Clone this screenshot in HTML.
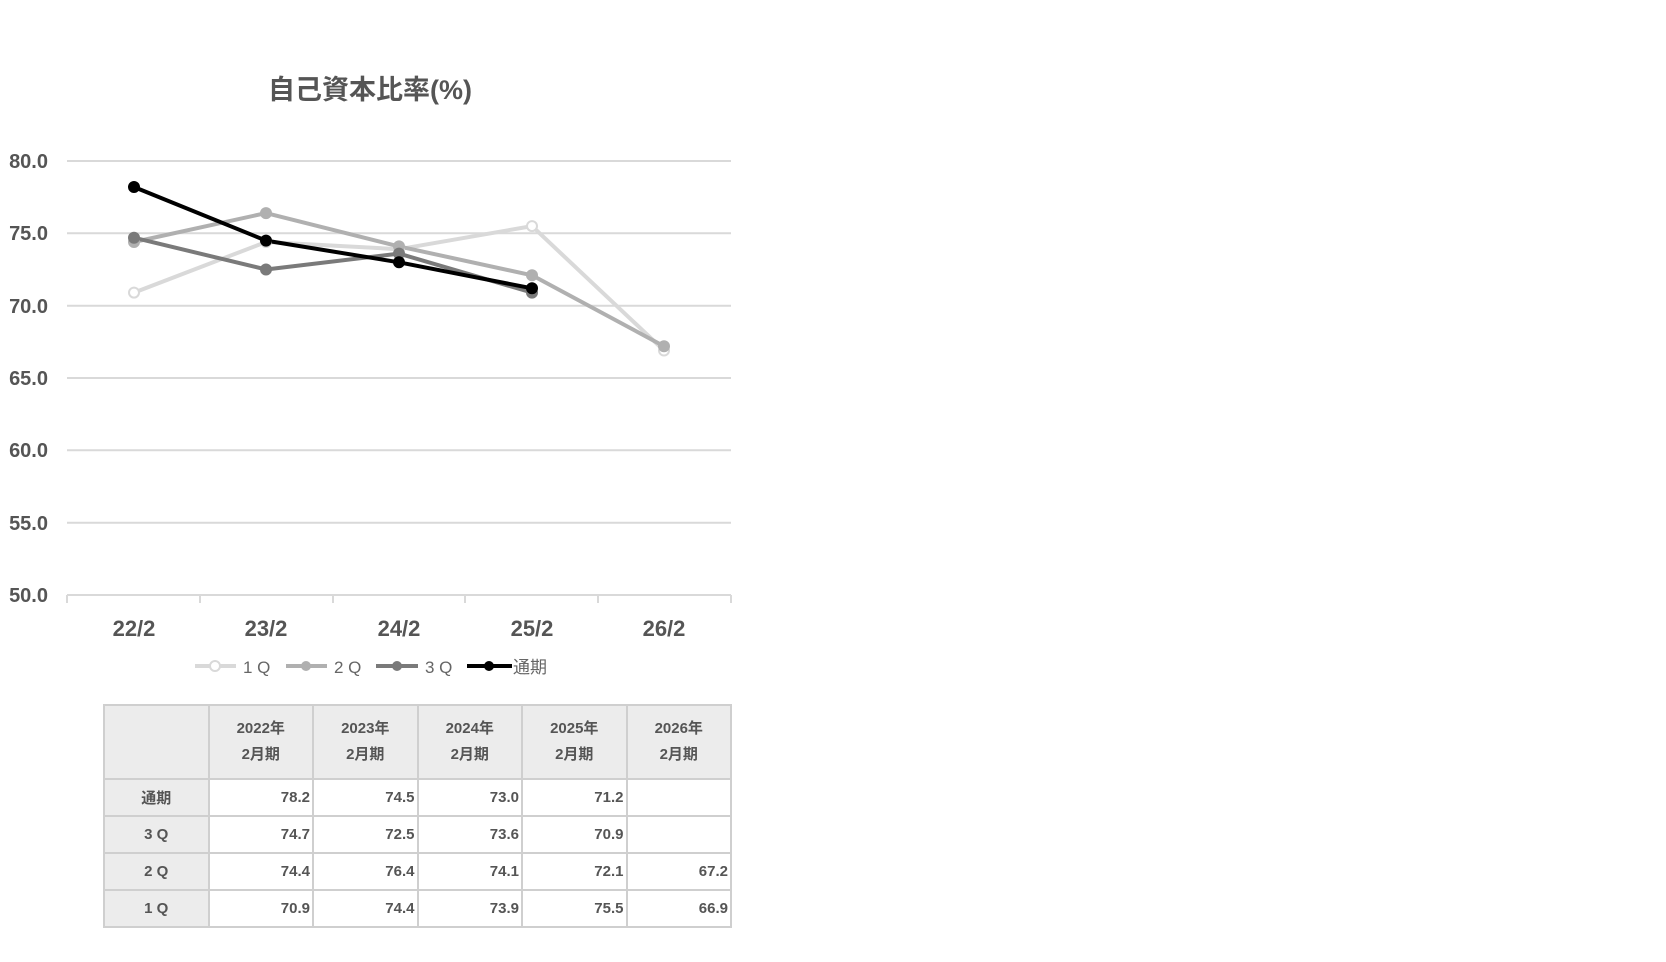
<!DOCTYPE html>
<html><head><meta charset="utf-8"><style>
body{margin:0;background:#fff;width:1666px;height:962px;overflow:hidden;font-family:"Liberation Sans","Noto Sans CJK JP",sans-serif;}
svg{position:absolute;left:0;top:0}
table{position:absolute;left:103px;top:704px;border-collapse:collapse;font-size:15px;color:#555;font-weight:bold;table-layout:fixed;width:629px}
td{border:2px solid #cfcfcf;padding:0 2px;height:35px;text-align:right}
tr.h td{height:72px;background:#ececec;text-align:center;line-height:26px}
td.l{background:#ececec;text-align:center}
</style></head><body>
<svg width="1666" height="962" font-family="Liberation Sans, Noto Sans CJK JP, sans-serif">
<text x="370" y="99" text-anchor="middle" font-size="27" font-weight="bold" fill="#555">自己資本比率(%)</text>
<g stroke="#d9d9d9" stroke-width="2">
<line x1="67" x2="731" y1="161" y2="161"/><line x1="67" x2="731" y1="233.3" y2="233.3"/><line x1="67" x2="731" y1="305.7" y2="305.7"/><line x1="67" x2="731" y1="378" y2="378"/><line x1="67" x2="731" y1="450.3" y2="450.3"/><line x1="67" x2="731" y1="522.7" y2="522.7"/><line x1="67" x2="731" y1="595" y2="595"/>
<line x1="67" x2="67" y1="595" y2="603"/><line x1="200" x2="200" y1="595" y2="603"/><line x1="333" x2="333" y1="595" y2="603"/><line x1="465" x2="465" y1="595" y2="603"/><line x1="598" x2="598" y1="595" y2="603"/><line x1="731" x2="731" y1="595" y2="603"/>
</g>
<g font-size="20" font-weight="bold" fill="#555" text-anchor="end">
<text x="48" y="168">80.0</text><text x="48" y="240">75.0</text><text x="48" y="313">70.0</text><text x="48" y="385">65.0</text><text x="48" y="457">60.0</text><text x="48" y="530">55.0</text><text x="48" y="602">50.0</text>
</g>
<g font-size="22" font-weight="bold" fill="#555" text-anchor="middle">
<text x="134" y="636">22/2</text><text x="266" y="636">23/2</text><text x="399" y="636">24/2</text><text x="532" y="636">25/2</text><text x="664" y="636">26/2</text>
</g>
<g fill="none" stroke-width="4" stroke-linejoin="round">
<polyline stroke="#d9d9d9" points="134,292.6 266,242 399,249.2 532,226.1 664,350.5"/>
<polyline stroke="#b0b0b0" points="134,242 266,213.1 399,246.4 532,275.3 664,346.2"/>
<polyline stroke="#7a7a7a" points="134,237.7 266,269.5 399,253.6 532,292.6"/>
<polyline stroke="#000" points="134,187 266,240.6 399,262.3 532,288.3"/>
</g>
<g stroke-width="2">
<g fill="#fff" stroke="#d9d9d9"><circle cx="134" cy="292.6" r="5"/><circle cx="266" cy="242" r="5"/><circle cx="399" cy="249.2" r="5"/><circle cx="532" cy="226.1" r="5"/><circle cx="664" cy="350.5" r="5"/></g>
<g fill="#b0b0b0" stroke="#b0b0b0"><circle cx="134" cy="242" r="5"/><circle cx="266" cy="213.1" r="5"/><circle cx="399" cy="246.4" r="5"/><circle cx="532" cy="275.3" r="5"/><circle cx="664" cy="346.2" r="5"/></g>
<g fill="#7a7a7a" stroke="#7a7a7a"><circle cx="134" cy="237.7" r="5"/><circle cx="266" cy="269.5" r="5"/><circle cx="399" cy="253.6" r="5"/><circle cx="532" cy="292.6" r="5"/></g>
<g fill="#000" stroke="#000"><circle cx="134" cy="187" r="5"/><circle cx="266" cy="240.6" r="5"/><circle cx="399" cy="262.3" r="5"/><circle cx="532" cy="288.3" r="5"/></g>
</g>
<g font-size="17" fill="#666">
<line x1="195" x2="236" y1="666" y2="666" stroke="#d9d9d9" stroke-width="4"/><circle cx="215" cy="666" r="5" fill="#fff" stroke="#d9d9d9" stroke-width="2"/><text x="243" y="673">1 Q</text>
<line x1="286" x2="327" y1="666" y2="666" stroke="#b0b0b0" stroke-width="4"/><circle cx="306" cy="666" r="5" fill="#b0b0b0"/><text x="334" y="673">2 Q</text>
<line x1="376" x2="418" y1="666" y2="666" stroke="#7a7a7a" stroke-width="4"/><circle cx="397" cy="666" r="5" fill="#7a7a7a"/><text x="425" y="673">3 Q</text>
<line x1="467" x2="512" y1="666" y2="666" stroke="#000" stroke-width="4"/><circle cx="489" cy="666" r="5" fill="#000"/><text x="513" y="673">通期</text>
</g>
</svg>
<table>
<tr class="h"><td></td><td>2022年<br>2月期</td><td>2023年<br>2月期</td><td>2024年<br>2月期</td><td>2025年<br>2月期</td><td>2026年<br>2月期</td></tr>
<tr><td class="l">通期</td><td>78.2</td><td>74.5</td><td>73.0</td><td>71.2</td><td></td></tr>
<tr><td class="l">3 Q</td><td>74.7</td><td>72.5</td><td>73.6</td><td>70.9</td><td></td></tr>
<tr><td class="l">2 Q</td><td>74.4</td><td>76.4</td><td>74.1</td><td>72.1</td><td>67.2</td></tr>
<tr><td class="l">1 Q</td><td>70.9</td><td>74.4</td><td>73.9</td><td>75.5</td><td>66.9</td></tr>
</table>
</body></html>
